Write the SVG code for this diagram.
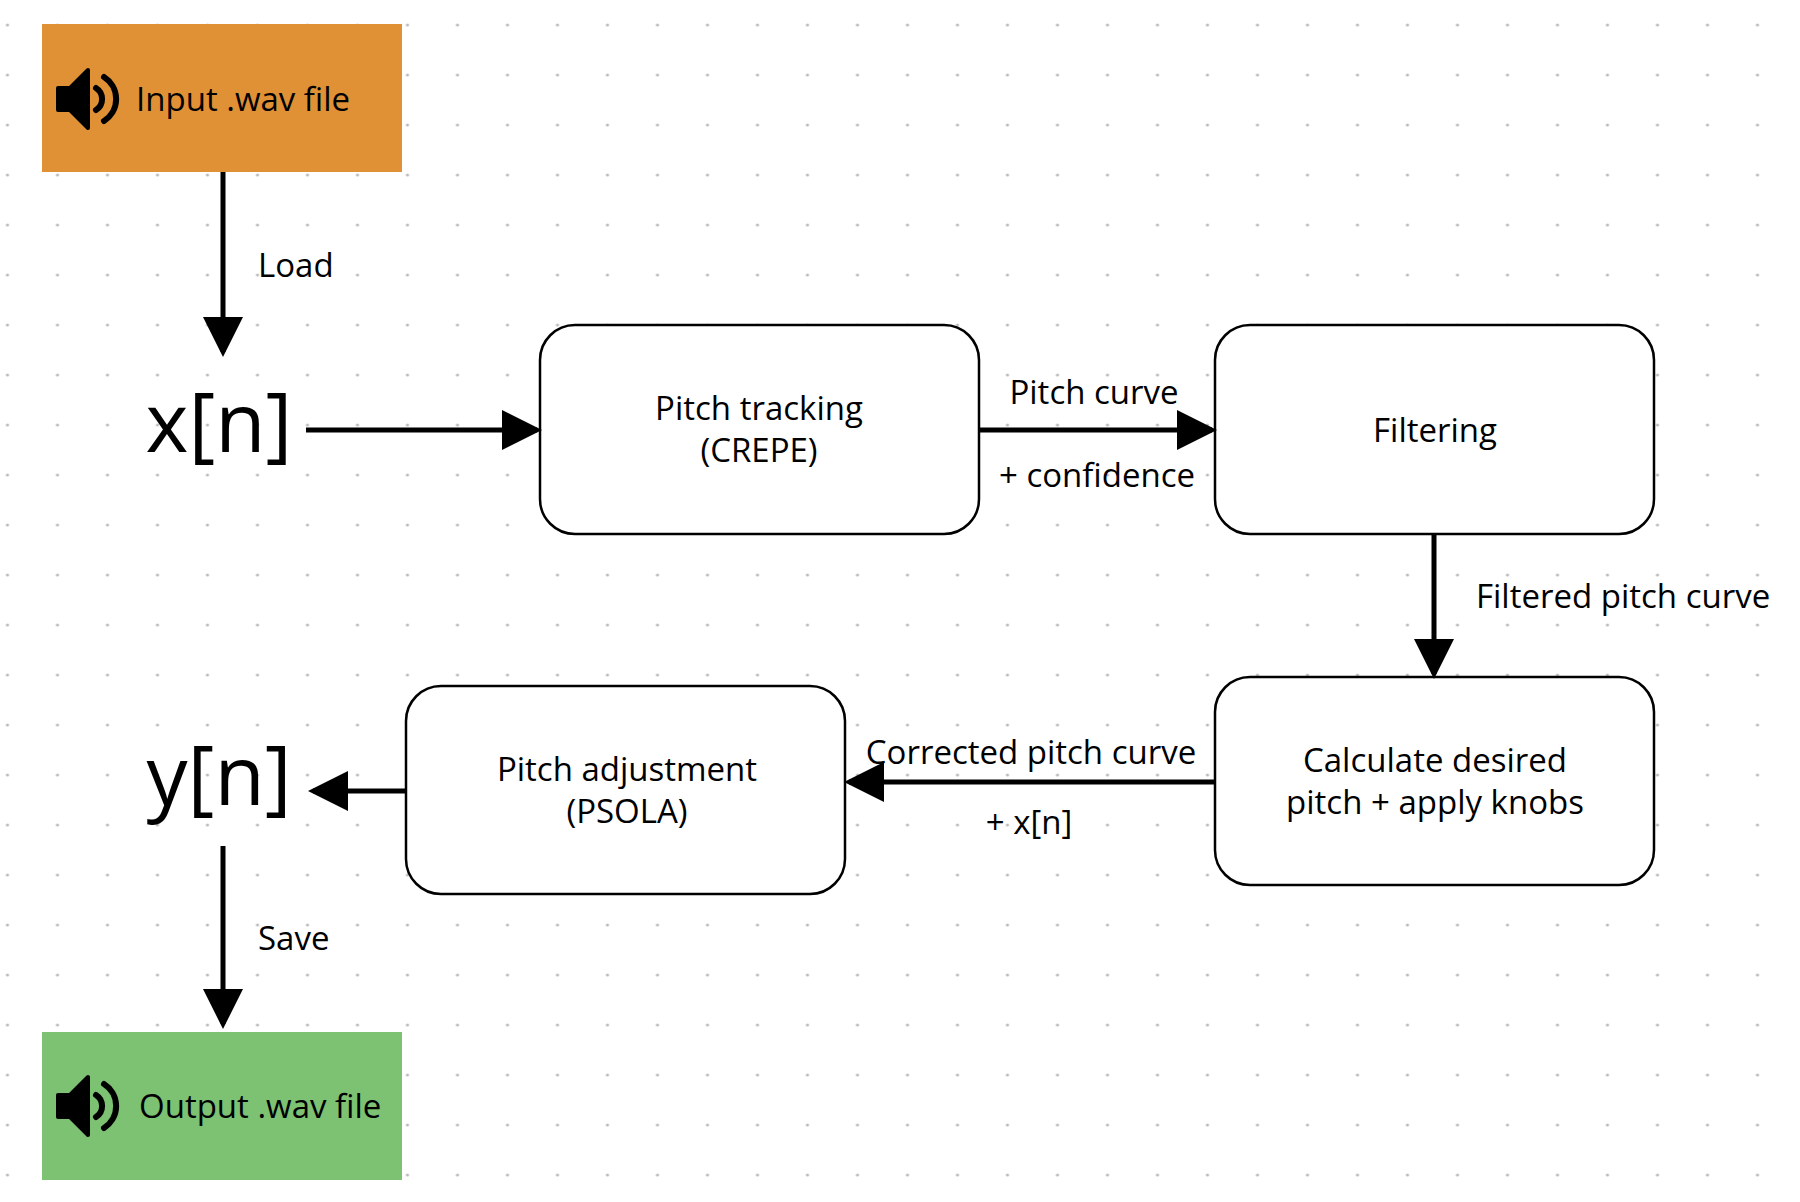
<svg xmlns="http://www.w3.org/2000/svg" width="1800" height="1202" viewBox="0 0 1800 1202">
<defs>
<pattern id="dots" x="7.5" y="25" width="50" height="50" patternUnits="userSpaceOnUse"><circle cx="0" cy="0" r="1.6" fill="#bbb"/><circle cx="50" cy="0" r="1.6" fill="#bbb"/><circle cx="0" cy="50" r="1.6" fill="#bbb"/><circle cx="50" cy="50" r="1.6" fill="#bbb"/></pattern>
<marker id="ah" markerWidth="8" markerHeight="8" refX="7" refY="4" orient="auto" markerUnits="strokeWidth"><path d="M0,0 L8,4 L0,8 Z" fill="#000"/></marker>
<g id="spk"><path d="M0,-11 h12 l18,-18 v58 l-18,-18 h-12 z" fill="#000" stroke="#000" stroke-width="4" stroke-linejoin="round"/><path d="M38,-11 a13,13 0 0 1 0,22" fill="none" stroke="#000" stroke-width="6" stroke-linecap="round"/><path d="M46,-22 a26,26 0 0 1 0,44" fill="none" stroke="#000" stroke-width="6" stroke-linecap="round"/></g>
</defs>
<style>
text{font-family:"Open Sans","Liberation Sans",sans-serif;fill:#000}
.t{font-size:33px}
.m{text-anchor:middle}
.box{fill:#fff;stroke:#000;stroke-width:2.5}
.c{stroke:#000;stroke-width:5;fill:none;marker-end:url(#ah)}
.big{font-size:82px;text-anchor:middle}
</style>
<rect width="1800" height="1202" fill="#fff"/>
<rect width="1800" height="1202" fill="url(#dots)"/>
<g id="input"><rect x="42" y="24" width="360" height="148" fill="#E09035"/><use href="#spk" x="58" y="99"/><text class="t" x="136" y="111">Input .wav file</text></g>
<g id="xn"><text class="big" x="219" y="452">x[n]</text></g>
<g id="pitch"><rect class="box" x="540" y="325" width="439" height="209" rx="35"/><text class="t m" x="759" y="420">Pitch tracking</text><text class="t m" x="759" y="462">(CREPE)</text></g>
<g id="filter"><rect class="box" x="1215" y="325" width="439" height="209" rx="35"/><text class="t m" x="1435" y="442">Filtering</text></g>
<g id="calc"><rect class="box" x="1215" y="677" width="439" height="208" rx="35"/><text class="t m" x="1435" y="772">Calculate desired</text><text class="t m" x="1435" y="814">pitch + apply knobs</text></g>
<g id="adj"><rect class="box" x="406" y="686" width="439" height="208" rx="35"/><text class="t m" x="627" y="781">Pitch adjustment</text><text class="t m" x="627" y="823">(PSOLA)</text></g>
<g id="yn"><text class="big" x="219" y="805">y[n]</text></g>
<g id="output"><rect x="42" y="1032" width="360" height="148" fill="#7DC172"/><use href="#spk" x="58" y="1106"/><text class="t" x="139" y="1118">Output .wav file</text></g>
<g id="connectors">
<path class="c" d="M223,172 V352"/>
<path class="c" d="M306,430 H537"/>
<path class="c" d="M979,430 H1212"/>
<path class="c" d="M1434,534 V674"/>
<path class="c" d="M1215,782 H849"/>
<path class="c" d="M406,791 H313"/>
<path class="c" d="M223,846 V1024"/>
<text class="t" x="258" y="277">Load</text>
<text class="t m" x="1094" y="404">Pitch curve</text>
<text class="t m" x="1097" y="487">+ confidence</text>
<text class="t" x="1476" y="608">Filtered pitch curve</text>
<text class="t m" x="1031" y="764">Corrected pitch curve</text>
<text class="t m" x="1029" y="834">+ x[n]</text>
<text class="t" x="258" y="950">Save</text>
</g>
</svg>
